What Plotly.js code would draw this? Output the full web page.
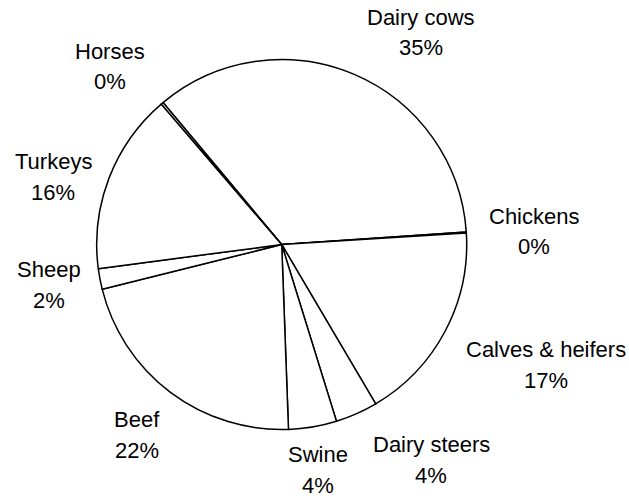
<!DOCTYPE html>
<html>
<head>
<meta charset="utf-8">
<script src="https://cdn.plot.ly/plotly-3.0.1.min.js"></script>
<style>
  html, body { margin: 0; padding: 0; background: #fff; }
  #chart { width: 629px; height: 499px; }
</style>
</head>
<body>
<div id="chart"></div>
<script>
// Data (share of total, %)
const categories = ['Dairy cows', 'Chickens', 'Calves & heifers', 'Dairy steers', 'Swine', 'Beef', 'Sheep', 'Turkeys', 'Horses'];
const values = [35.0, 0.1, 17.5, 3.7, 4.2, 21.7, 1.8, 15.8, 0.2];
const percentLabels = ['35%', '0%', '17%', '4%', '4%', '22%', '2%', '16%', '0%'];

// Label placement (pixel centres of each two-line label block)
const labelPos = [
  [421, 32.5],  // Dairy cows
  [534, 231.5], // Chickens
  [546, 365],   // Calves & heifers
  [431, 460],   // Dairy steers
  [318, 470],   // Swine
  [137, 435],   // Beef
  [49, 285],    // Sheep
  [53, 177],    // Turkeys
  [110, 66.5]   // Horses
];

const W = 629, H = 499;
const lineHalf = 15.3;
const font = {family: 'Liberation Sans, Arial, sans-serif', size: 22, color: '#000'};

const annotations = [];
categories.forEach((c, i) => {
  const [px, py] = labelPos[i];
  annotations.push({
    text: c, xref: 'paper', yref: 'paper', x: px / W, y: 1 - (py - lineHalf) / H,
    xanchor: 'center', yanchor: 'middle', showarrow: false, font: font
  });
  annotations.push({
    text: percentLabels[i], xref: 'paper', yref: 'paper', x: px / W, y: 1 - (py + lineHalf) / H,
    xanchor: 'center', yanchor: 'middle', showarrow: false, font: font
  });
});

const cx = 281.7, cy = 244.5, r = 185;

const trace = {
  type: 'pie',
  labels: categories,
  values: values,
  sort: false,
  direction: 'clockwise',
  rotation: -39.9,
  textinfo: 'none',
  hoverinfo: 'skip',
  automargin: false,
  marker: {
    colors: categories.map(() => '#ffffff'),
    line: {color: '#000000', width: 1.5}
  },
  domain: {
    x: [(cx - r) / W, (cx + r) / W],
    y: [(H - cy - r) / H, (H - cy + r) / H]
  }
};

const layout = {
  width: W, height: H,
  margin: {l: 0, r: 0, t: 0, b: 0},
  paper_bgcolor: '#ffffff',
  plot_bgcolor: '#ffffff',
  showlegend: false,
  annotations: annotations,
  font: font
};

Plotly.newPlot('chart', [trace], layout, {staticPlot: true, displayModeBar: false});
</script>
</body>
</html>
